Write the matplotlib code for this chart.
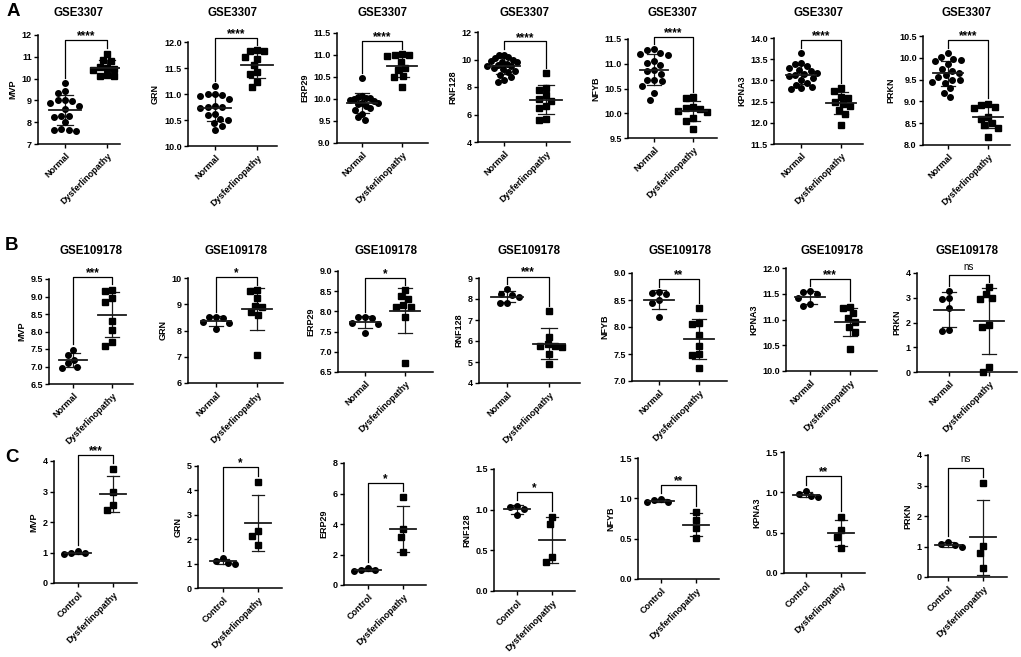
import numpy as np
import matplotlib
matplotlib.use('Agg')
import matplotlib.pyplot as plt
from matplotlib.ticker import FormatStrFormatter

W, H = 1021, 657
plt.rcParams['font.family'] = ['Liberation Sans', 'DejaVu Sans']
plt.rcParams['font.weight'] = 'bold'

genes = ['MVP', 'GRN', 'ERP29', 'RNF128', 'NFYB', 'KPNA3', 'PRKN']
row_letters = ['A', 'B', 'C']
row_titles = ['GSE3307', 'GSE109178', None]
group_labels = [['Normal', 'Dysferlinopathy'],
                ['Normal', 'Dysferlinopathy'],
                ['Control', 'Dysferlinopathy']]

# ---------------- Row A (GSE3307) ----------------
A_MVP_N = [9.8, 9.45, 9.35, 9.0, 9.0, 8.95, 8.9, 8.75, 8.6, 8.3, 8.3, 8.25, 8.0, 7.7, 7.65, 7.65, 7.6]
A_MVP_D = [11.15, 10.85, 10.8, 10.55, 10.5, 10.45, 10.4, 10.1, 10.1, 10.15]
A_GRN_N = [11.15, 11.0, 10.98, 10.97, 11.0, 10.9, 10.75, 10.75, 10.77, 10.74, 10.62, 10.6, 10.5, 10.52, 10.45, 10.38, 10.3]
A_GRN_D = [11.84, 11.83, 11.82, 11.72, 11.68, 11.55, 11.42, 11.38, 11.24, 11.13]
A_ERP29_N = [10.47, 10.07, 10.05, 10.03, 10.02, 10.0, 9.98, 9.95, 9.92, 9.9, 9.88, 9.85, 9.8, 9.75, 9.65, 9.6, 9.52]
A_ERP29_D = [11.02, 11.0, 11.0, 10.98, 10.85, 10.7, 10.65, 10.52, 10.5, 10.28]
A_RNF128_N = [10.35, 10.3, 10.2, 10.1, 10.0, 9.9, 9.85, 9.8, 9.7, 9.6, 9.55, 9.5, 9.4, 9.3, 9.2, 9.1, 8.9, 8.75, 8.5, 8.4]
A_RNF128_D = [9.0, 7.95, 7.8, 7.4, 7.15, 7.0, 6.6, 6.5, 5.7, 5.6]
A_NFYB_N = [11.3, 11.28, 11.22, 11.2, 11.18, 11.05, 11.02, 10.97, 10.87, 10.85, 10.8, 10.68, 10.67, 10.65, 10.55, 10.4, 10.27]
A_NFYB_D = [10.33, 10.3, 10.12, 10.1, 10.08, 10.05, 10.02, 9.9, 9.85, 9.68]
A_KPNA3_N = [13.65, 13.42, 13.38, 13.35, 13.3, 13.25, 13.22, 13.18, 13.15, 13.12, 13.1, 13.05, 13.0, 12.95, 12.9, 12.85, 12.82, 12.8]
A_KPNA3_D = [12.82, 12.75, 12.62, 12.58, 12.5, 12.45, 12.4, 12.3, 12.2, 11.95]
A_PRKN_N = [10.1, 10.02, 9.98, 9.95, 9.92, 9.85, 9.75, 9.7, 9.65, 9.6, 9.55, 9.5, 9.48, 9.45, 9.42, 9.3, 9.2, 9.1]
A_PRKN_D = [8.95, 8.92, 8.88, 8.85, 8.65, 8.6, 8.5, 8.45, 8.4, 8.18]

# ---------------- Row B (GSE109178) ----------------
B_MVP_N = [7.48, 7.32, 7.2, 7.1, 7.0, 6.95]
B_MVP_D = [9.2, 9.15, 8.95, 8.85, 8.3, 8.05, 7.7, 7.6]
B_GRN_N = [8.52, 8.5, 8.48, 8.32, 8.28, 8.05]
B_GRN_D = [9.55, 9.52, 9.22, 8.95, 8.9, 8.7, 8.58, 7.05]
B_ERP29_N = [7.85, 7.85, 7.83, 7.72, 7.7, 7.47]
B_ERP29_D = [8.52, 8.37, 8.3, 8.15, 8.12, 8.1, 7.85, 6.72]
B_RNF128_N = [8.47, 8.25, 8.2, 8.1, 7.82, 7.8]
B_RNF128_D = [7.42, 6.2, 5.85, 5.78, 5.75, 5.72, 5.4, 4.9]
B_NFYB_N = [8.65, 8.63, 8.62, 8.5, 8.45, 8.18]
B_NFYB_D = [8.35, 8.07, 8.05, 7.85, 7.65, 7.5, 7.48, 7.25]
B_KPNA3_N = [11.55, 11.53, 11.5, 11.42, 11.3, 11.27]
B_KPNA3_D = [11.25, 11.22, 11.12, 11.02, 10.95, 10.85, 10.75, 10.42]
B_PRKN_N = [3.28, 2.97, 2.95, 2.6, 1.7, 1.65]
B_PRKN_D = [3.43, 3.15, 2.97, 2.95, 1.9, 1.8, 0.22, 0.02]

# ---------------- Row C (validation) ----------------
C_MVP_N = [0.96, 1.05, 0.98, 0.98]
C_MVP_D = [3.73, 3.0, 2.55, 2.4]
C_GRN_N = [1.0, 1.25, 1.02, 1.1]
C_GRN_D = [4.36, 2.35, 2.15, 1.77]
C_ERP29_N = [0.94, 1.14, 0.99, 0.99]
C_ERP29_D = [5.74, 3.66, 3.18, 2.15]
C_RNF128_N = [1.04, 1.03, 1.01, 0.93]
C_RNF128_D = [0.91, 0.82, 0.42, 0.36]
C_NFYB_N = [0.95, 0.98, 0.96, 0.99]
C_NFYB_D = [0.83, 0.73, 0.63, 0.51]
C_KPNA3_N = [0.98, 1.02, 0.94, 0.95]
C_KPNA3_D = [0.69, 0.53, 0.45, 0.31]
C_PRKN_N = [1.15, 1.07, 1.05, 0.98]
C_PRKN_D = [3.09, 1.02, 0.80, 0.30]

sig_A = ['****'] * 7
sig_B = ['***', '*', '*', '***', '**', '***', 'ns']
sig_C = ['***', '*', '*', '*', '**', '**', 'ns']

# y axis ticks (start, stop, step)
yticks_A = [(7, 12, 1), (10, 12, 0.5), (9, 11.5, 0.5), (4, 12, 2), (9.5, 11.5, 0.5), (11.5, 14, 0.5), (8, 10.5, 0.5)]
yticks_B = [(6.5, 9.5, 0.5), (6, 10, 1), (6.5, 9, 0.5), (4, 9, 1), (7, 9, 0.5), (10, 12, 0.5), (0, 4, 1)]
yticks_C = [(0, 4, 1), (0, 5, 1), (0, 8, 2), (0, 1.5, 0.5), (0, 1.5, 0.5), (0, 1.5, 0.5), (0, 4, 1)]

data_rows = [
    [(A_MVP_N, A_MVP_D), (A_GRN_N, A_GRN_D), (A_ERP29_N, A_ERP29_D), (A_RNF128_N, A_RNF128_D),
     (A_NFYB_N, A_NFYB_D), (A_KPNA3_N, A_KPNA3_D), (A_PRKN_N, A_PRKN_D)],
    [(B_MVP_N, B_MVP_D), (B_GRN_N, B_GRN_D), (B_ERP29_N, B_ERP29_D), (B_RNF128_N, B_RNF128_D),
     (B_NFYB_N, B_NFYB_D), (B_KPNA3_N, B_KPNA3_D), (B_PRKN_N, B_PRKN_D)],
    [(C_MVP_N, C_MVP_D), (C_GRN_N, C_GRN_D), (C_ERP29_N, C_ERP29_D), (C_RNF128_N, C_RNF128_D),
     (C_NFYB_N, C_NFYB_D), (C_KPNA3_N, C_KPNA3_D), (C_PRKN_N, C_PRKN_D)],
]
sig_rows = [sig_A, sig_B, sig_C]
ytick_rows = [yticks_A, yticks_B, yticks_C]

# ---------------- layout (pixels): x0, x1, ytop, ybot, x_group0, x_group1 ----------------
layout = [
    [(38, 120, 35, 144, 65, 107), (188, 277, 42, 146, 215, 257), (337, 428, 33, 143, 362, 402),
     (478, 570, 32, 142, 504, 546), (628, 717, 39, 138, 654, 693), (774, 863, 38, 144, 801, 841),
     (923, 1010, 36, 145, 948, 988)],
    [(49, 133, 279, 384, 73, 112), (188, 283, 278, 383, 216, 257), (338, 433, 271, 372, 365, 405),
     (479, 580, 278, 383, 507, 549), (632, 727, 273, 381, 659, 699), (786, 877, 268, 371, 810, 850),
     (917, 1017, 273, 372, 949, 989)],
    [(54, 137, 461, 583, 78, 113), (198, 282, 466, 588, 223, 258), (344, 426, 463, 585, 368, 403),
     (494, 575, 469, 591, 517, 552), (638, 719, 458, 579, 661, 696), (784, 865, 452, 573, 806, 841),
     (928, 1007, 455, 577, 948, 983)],
]
title_y = [13, 251]
letter_pos = [(13, 12), (12, 245), (12, 458)]


def swarm(vals_px, D):
    order = np.argsort(vals_px)[::-1]
    xs = np.zeros(len(vals_px))
    placed = []
    for i in order:
        y = vals_px[i]
        forb = []
        for xp, yp in placed:
            dy = abs(y - yp)
            if dy < D:
                dx = np.sqrt(D * D - dy * dy)
                forb.append((xp - dx, xp + dx))
        cands = [0.0] + [a for a, b in forb] + [b for a, b in forb]
        cands.sort(key=lambda c: (abs(c), c))
        for c in cands:
            if all(not (a + 1e-6 < c < b - 1e-6) for a, b in forb):
                xs[i] = c
                break
        placed.append((xs[i], y))
    return xs


fig = plt.figure(figsize=(W / 100, H / 100), dpi=100)
ec = '#1a1a1a'

for r in range(3):
    for c in range(7):
        x0, x1, yt, yb, xn, xd = layout[r][c]
        ax = fig.add_axes([x0 / W, 1 - yb / H, (x1 - x0) / W, (yb - yt) / H])
        sp = xd - xn
        ax.set_xlim((x0 - xn) / sp, (x1 - xn) / sp)
        lo, hi, st = ytick_rows[r][c]
        ax.set_ylim(lo, hi)
        ax.set_yticks(np.arange(lo, hi + st / 2, st))
        ax.yaxis.set_major_formatter(FormatStrFormatter('%d' if float(st).is_integer() else '%.1f'))
        rng = hi - lo
        px_per_unit = (yb - yt) / rng
        groups = data_rows[r][c]
        for g, vals in enumerate(groups):
            v = np.asarray(vals, dtype=float)
            offs = swarm(v * px_per_unit, 7.5) / sp
            cap = 0.4
            mo = np.abs(offs).max()
            if mo > cap:
                offs = offs * cap / mo
            ax.plot(g + offs, v, linestyle='none', marker='o' if g == 0 else 's',
                    color='black', markersize=4.0, zorder=3, clip_on=False)
            m = v.mean()
            s = v.std(ddof=1)
            ax.plot([g - 0.37, g + 0.37], [m, m], color=ec, lw=1.3, zorder=4)
            ax.plot([g, g], [m - s, m + s], color=ec, lw=0.9, zorder=2)
            for yy in (m - s, m + s):
                ax.plot([g - 0.18, g + 0.18], [yy, yy], color=ec, lw=0.9, zorder=2)
        # significance bracket
        mx0 = max(groups[0])
        mx1 = max(groups[1])
        ybk = max(mx0, mx1) + 0.12 * rng
        ax.plot([0, 0, 1, 1], [mx0 + 0.05 * rng, ybk, ybk, mx1 + 0.05 * rng],
                color='black', lw=0.9, clip_on=False, zorder=5)
        lab = sig_rows[r][c]
        if lab == 'ns':
            ax.text(0.5, ybk + 0.03 * rng, lab, ha='center', va='bottom', fontsize=7,
                    fontweight='normal')
        else:
            ax.text(0.5, ybk - 0.02 * rng, lab, ha='center',
                    va='bottom', fontsize=8.5, fontweight='bold')
        ax.set_xticks([0, 1])
        ax.set_xticklabels(group_labels[r], rotation=45, ha='right', rotation_mode='anchor',
                           fontsize=6.5, fontweight='bold')
        ax.tick_params(axis='y', labelsize=6.5, length=3, width=1, pad=1.5)
        ax.tick_params(axis='x', length=3, width=1, pad=2)
        for lbl in ax.get_yticklabels():
            lbl.set_fontweight('bold')
        ax.set_ylabel(genes[c], fontsize=6.5, fontweight='bold', labelpad=3)
        for side in ('top', 'right'):
            ax.spines[side].set_visible(False)
        for side in ('left', 'bottom'):
            ax.spines[side].set_linewidth(1.1)
        if row_titles[r]:
            fig.text((x0 + x1) / 2 / W, 1 - title_y[r] / H, row_titles[r], ha='center',
                     va='center', fontsize=8.3, fontweight='bold')

for r in range(3):
    lx, ly = letter_pos[r]
    fig.text(lx / W, 1 - ly / H, row_letters[r], ha='center', va='center', fontsize=13.5,
             fontweight='bold')

fig.savefig('out.png', dpi=100)
